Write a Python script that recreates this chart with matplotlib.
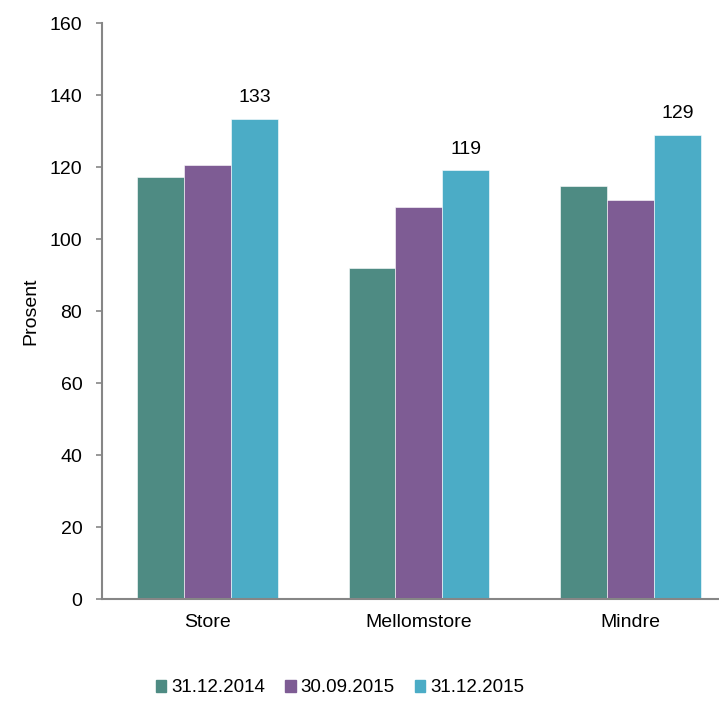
import numpy as np
from matplotlib import pyplot as plt
from matplotlib.patches import Patch

plt.rcParams['font.family'] = ['Liberation Sans', 'DejaVu Sans']

# data
categories = ["Store", "Mellomstore", "Mindre"]
series_names = ["31.12.2014", "30.09.2015", "31.12.2015"]
v_2014_12 = [117.3, 91.9, 114.6]
v_2015_09 = [120.5, 109.0, 110.8]
v_2015_12 = [133.4, 119.1, 128.9]
colors = ["#4E8B83", "#7E5C94", "#4BACC6"]

fs = 14

fig = plt.figure(figsize=(7.19, 7.24), dpi=100)
ax = fig.add_axes([101.7 / 719, 125 / 724, (719 - 101.7) / 719, 576 / 724])

x = np.arange(len(categories))
width = 0.222
all_series = [v_2014_12, v_2015_09, v_2015_12]
for i, vals in enumerate(all_series):
    ax.bar(x + (i - 1) * width, vals, width, color=colors[i], edgecolor="white", linewidth=0.4)

# value labels on the last series only
for xi, v in zip(x, v_2015_12):
    ax.annotate("%d" % round(v), (xi + width, v), xytext=(0, 9), textcoords="offset points",
                ha="center", va="bottom", fontsize=fs)

ax.set_ylim(0, 160)
ax.set_yticks(range(0, 161, 20))
ax.set_xlim(-0.5, (719 - 101.7) / 211.5 - 0.5)
ax.set_xticks(x)
ax.set_xticklabels(categories)

for s in ["top", "right"]:
    ax.spines[s].set_visible(False)
for s in ["left", "bottom"]:
    ax.spines[s].set_color("#868686")
    ax.spines[s].set_linewidth(1.5)

ax.tick_params(axis="y", length=4, width=1.2, color="#868686", pad=10, labelsize=fs)
ax.tick_params(axis="x", length=0, pad=11, labelsize=fs)

ax.set_ylabel("Prosent", fontsize=fs)
ax.yaxis.set_label_coords(-0.101, 0.5)

handles = [Patch(color=c) for c in colors]
fig.legend(handles, series_names, loc="center", bbox_to_anchor=(340 / 719, 1 - 688 / 724),
           ncol=3, frameon=False, fontsize=13.5, handlelength=0.55, handleheight=0.55,
           handletextpad=0.25, columnspacing=1.1)

plt.savefig("out.png", dpi=100)
